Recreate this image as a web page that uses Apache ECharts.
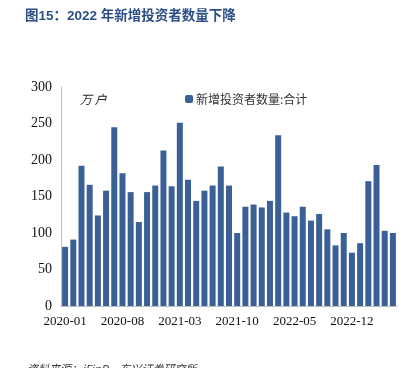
<!DOCTYPE html>
<html>
<head>
<meta charset="utf-8">
<script src="https://cdn.jsdelivr.net/npm/echarts@6/dist/echarts.min.js"></script>
<style>
  html, body { margin: 0; padding: 0; background: #fff; }
  #main { width: 413px; height: 368px; }
</style>
</head>
<body>
<div id="main"></div>
<script>
    // 月份 2020-01 ~ 2023-05
    let months = [];
    for (let y = 2020; y <= 2023; y++) {
        for (let m = 1; m <= 12; m++) {
            if (y === 2023 && m > 5) break;
            months.push(y + '-' + (m < 10 ? '0' + m : m));
        }
    }

    // 新增投资者数量:合计 (万户)
    let newInvestors = [
        81, 91, 192, 166, 124, 158, 245, 182, 156, 115, 156, 165,
        213, 164, 251, 173, 144, 158, 165, 191, 165, 100, 136, 139,
        135, 144, 234, 128, 123, 136, 117, 126, 105, 83, 100, 73,
        86, 171, 193, 103, 100
    ];

    let chart = echarts.init(document.getElementById('main'));
    let serif = '"Liberation Serif", "DejaVu Serif", serif';

    let option = {
        animation: false,
        title: [
            {
                text: '图15：2022 年新增投资者数量下降',
                left: 20,
                top: 5,
                textStyle: {
                    color: '#2c4f85',
                    fontSize: 13.5,
                    fontWeight: 'bold',
                    fontFamily: '"Liberation Sans", "Noto Sans CJK SC", sans-serif'
                }
            },
            {
                text: '万 户',
                left: 75,
                top: 88,
                textStyle: {
                    color: '#222',
                    fontSize: 12,
                    fontWeight: 'normal',
                    fontStyle: 'italic',
                    fontFamily: '"Noto Sans CJK SC", sans-serif'
                }
            },
            {
                text: '资料来源：iFinD，东兴证券研究所',
                left: 22,
                top: 358,
                textStyle: {
                    color: '#333',
                    fontSize: 11,
                    fontWeight: 'normal',
                    fontStyle: 'italic',
                    fontFamily: '"Noto Sans CJK SC", sans-serif'
                }
            }
        ],
        legend: {
            left: 180,
            top: 88,
            itemWidth: 8,
            itemHeight: 8,
            itemGap: 4,
            textStyle: {
                color: '#333',
                fontSize: 12,
                padding: [0, 0, 0, -2],
                fontFamily: '"Noto Sans CJK SC", sans-serif'
            },
            data: ['新增投资者数量:合计']
        },
        grid: {
            left: 61,
            right: 16,
            top: 87,
            bottom: 62
        },
        xAxis: {
            type: 'category',
            data: months,
            axisLine: { lineStyle: { color: '#bfbfbf', width: 1 } },
            axisTick: { show: false },
            axisLabel: {
                interval: 6,
                color: '#111',
                fontSize: 13,
                margin: 9,
                fontFamily: serif
            }
        },
        yAxis: {
            type: 'value',
            min: 0,
            max: 300,
            interval: 50,
            splitLine: { show: false },
            axisLine: { show: true, lineStyle: { color: '#bfbfbf', width: 1 } },
            axisTick: { show: false },
            axisLabel: {
                color: '#111',
                fontSize: 14,
                margin: 9,
                fontFamily: serif
            }
        },
        series: [
            {
                name: '新增投资者数量:合计',
                type: 'bar',
                data: newInvestors,
                barCategoryGap: '27%',
                itemStyle: { color: '#3a6096' }
            }
        ]
    };

    chart.setOption(option);
</script>
</body>
</html>
